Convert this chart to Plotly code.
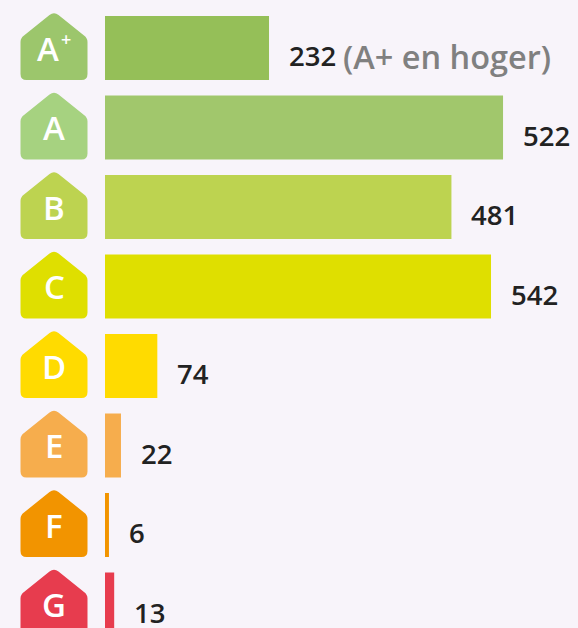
import plotly.graph_objects as go

categories = ["A+", "A", "B", "C", "D", "E", "F", "G"]
count_labels = [232, 522, 481, 542, 74, 22, 6, 13]
# Bar lengths as drawn in the picture (they do not follow the printed counts exactly)
drawn_lengths = [232, 563, 490, 546, 74, 22.6, 5.6, 13]
bar_colors = ["#95bf58", "#a1c76c", "#bdd350", "#dfdf00", "#ffdb00", "#f6ad4d", "#f29400", "#e73c4e"]
house_colors = ["#9cc66c", "#a6d280", "#bdd350", "#dfdf00", "#ffdb00", "#f6ad4d", "#f29400", "#e73c4e"]
note_text = "(A+ en hoger)"
BG = "#f8f4fa"

W, H = 578, 628
BAR_LEFT = 105
PX_PER_UNIT = 0.707
ROW0 = 48
ROW_PITCH = 79.5
BAR_H = 64
ICON_X = 54

x_range = [-BAR_LEFT / PX_PER_UNIT, (W - BAR_LEFT) / PX_PER_UNIT]
y_range = [(H - ROW0) / ROW_PITCH, -ROW0 / ROW_PITCH]
icon_x = (ICON_X - BAR_LEFT) / PX_PER_UNIT

# House outline in pixels, relative to the anchor (pixel-sized shapes have y pointing up)
HOUSE = ("M -33.5 6 Q -33.5 10 -30 12.5 L -4.5 33 Q 0 36.5 4.5 33 L 30 12.5 "
         "Q 33.5 10 33.5 6 L 33.5 -26 Q 33.5 -32 27.5 -32 L -27.5 -32 "
         "Q -33.5 -32 -33.5 -26 Z")

fig = go.Figure(go.Bar(
    x=drawn_lengths, y=categories, orientation="h",
    marker=dict(color=bar_colors, line=dict(width=0)),
    width=BAR_H / ROW_PITCH, hoverinfo="skip",
))

shapes, annotations = [], []
label_font = dict(family="Open Sans", size=27.5, color="#222222", weight=600)
for cat, length, count, col in zip(categories, drawn_lengths, count_labels, house_colors):
    shapes.append(dict(type="path", path=HOUSE, xsizemode="pixel", ysizemode="pixel",
                       xref="x", yref="y", xanchor=icon_x, yanchor=cat,
                       fillcolor=col, line=dict(width=0), layer="below"))
    letter = cat[0]
    sup = cat[1:]
    annotations.append(dict(x=icon_x, y=cat, text=letter, showarrow=False,
                            xanchor="center", yanchor="middle",
                            xshift=-6 if sup else 0, yshift=0,
                            font=dict(family="Open Sans", size=33, color="white", weight=600)))
    if sup:
        annotations.append(dict(x=icon_x, y=cat, text=sup, showarrow=False,
                                xanchor="center", yanchor="middle", xshift=12, yshift=9,
                                font=dict(family="Open Sans", size=18, color="white", weight=600)))
    annotations.append(dict(x=length, y=cat, text=str(count), showarrow=False,
                            xanchor="left", yanchor="middle", xshift=18, yshift=-7.5,
                            font=label_font))

annotations.append(dict(x=drawn_lengths[0], y=categories[0], text=note_text, showarrow=False,
                        xanchor="left", yanchor="middle", xshift=72, yshift=-8,
                        font=dict(family="Open Sans", size=32.5, color="#808080", weight=600)))

fig.update_layout(
    width=W, height=H, margin=dict(l=0, r=0, t=0, b=0),
    paper_bgcolor=BG, plot_bgcolor=BG,
    showlegend=False, shapes=shapes, annotations=annotations,
    xaxis=dict(range=x_range, visible=False, fixedrange=True),
    yaxis=dict(range=y_range, visible=False, fixedrange=True, type="category",
               categoryorder="array", categoryarray=categories),
)
fig.write_html("out.html", config=dict(displayModeBar=False),
               post_script=f"document.body.style.margin='0';document.body.style.overflow='hidden';document.body.style.background='{BG}';")
